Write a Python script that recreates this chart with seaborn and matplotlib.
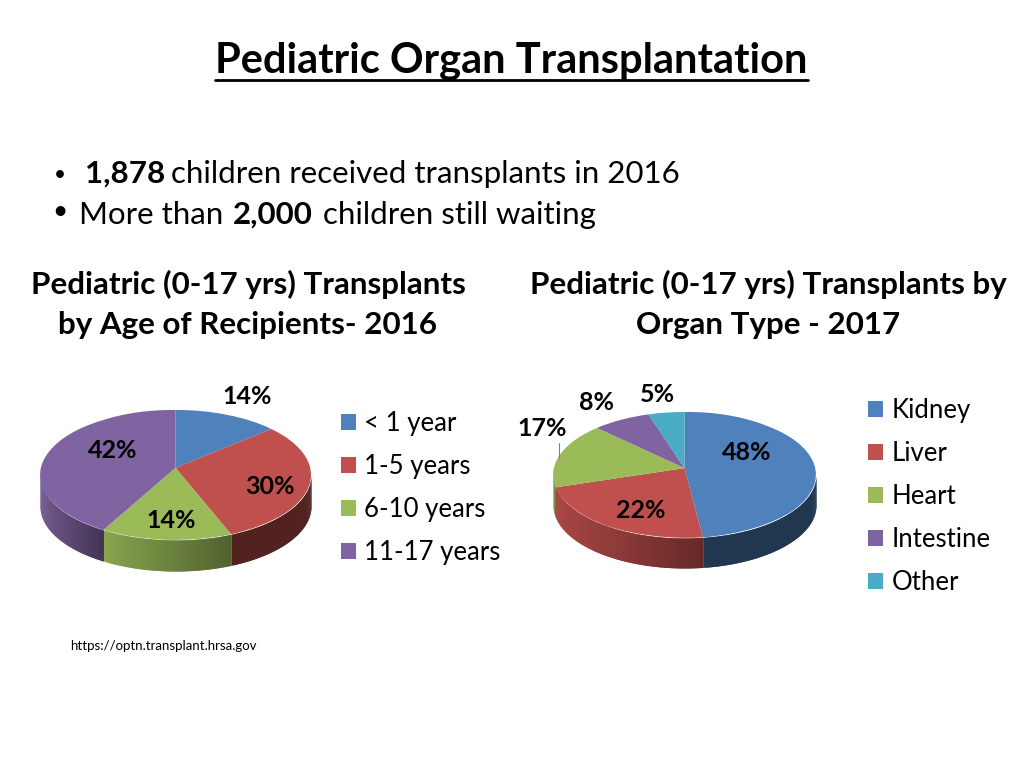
import numpy as np
import seaborn as sns
import matplotlib.pyplot as plt
from matplotlib.lines import Line2D
from matplotlib.path import Path

age_labels = ["< 1 year", "1-5 years", "6-10 years", "11-17 years"]
age_values = [14, 30, 14, 42]
organ_labels = ["Kidney", "Liver", "Heart", "Intestine", "Other"]
organ_values = [48, 22, 17, 8, 5]

title = "Pediatric Organ Transplantation"
left_heading = ["Pediatric (0-17 yrs) Transplants", "by Age of Recipients- 2016"]
right_heading = ["Pediatric (0-17 yrs) Transplants by", "Organ Type - 2017"]
source = "https://optn.transplant.hrsa.gov"

sns.set_theme(style="white")
plt.rcParams["font.family"] = ["Lato", "DejaVu Sans"]
palette = sns.color_palette(["#4F81BD", "#C0504D", "#9BBB59", "#8064A2", "#4BACC6"])

W, H = 1024, 768
fig = plt.figure(figsize=(W / 100, H / 100), dpi=100)


def put(x, y, s, **kw):
    # x, y in reference pixels
    kw.setdefault("va", "center")
    kw.setdefault("color", "black")
    return fig.text(x / W, 1 - y / H, s, **kw)


def warp(phi):
    # back of the tilted disc looks squeezed, phi in degrees
    cw = 90 - phi
    return 90 - (cw - 7 * np.sin(np.radians(cw)))


def pie3d(left, right, top, bottom, depth_px, values, labels, legend_xy, hub=0.11):
    # box covers the top face plus the wall below it
    ry_px = (bottom - top - depth_px) / 2
    depth = depth_px / ry_px
    ax = fig.add_axes([left / W, 1 - bottom / H, (right - left) / W, (bottom - top) / H])
    wedges, _ = ax.pie(values, colors=palette, startangle=90, counterclock=False,
                       radius=1, wedgeprops={"linewidth": 0})
    for w, c in zip(wedges, palette):
        p = w.get_path()
        v = p.vertices.copy()
        r = np.hypot(v[:, 0], v[:, 1])
        phi = warp(np.degrees(np.arctan2(v[:, 1], v[:, 0])))
        v = np.column_stack([r * np.cos(np.radians(phi)), r * np.sin(np.radians(phi))])
        # the hub sits a bit above the middle of the ellipse
        v[r < 1e-9] = (0, hub)
        w._path = Path(v, p.codes)
        w.set_zorder(5)

        # outer wall, only the front half of the rim shows
        a1, a2 = warp(w.theta1), warp(w.theta2)
        a1, a2 = max(min(a1, a2), -180), min(max(a1, a2), 0)
        if a2 <= a1:
            continue
        t = np.radians(np.linspace(a1, a2, 90))
        x, y = np.cos(t), np.sin(t)
        xmid = x.mean()
        for i in range(len(t) - 1):
            if xmid > 0.1:
                shade = 0.42
            else:
                f = (x[i] - x.min()) / (x.max() - x.min())
                shade = 0.88 - 0.36 * f
            col = tuple(np.array(c) * shade)
            # strips overlap the next one so no white seams show
            ax.fill_between(x[i:i + 3], y[i:i + 3], y[i:i + 3] - depth,
                            color=col, linewidth=0, zorder=2)
    ax.set_aspect("auto")
    ax.set_xlim(-1, 1)
    ax.set_ylim(-1 - depth, 1)
    ax.axis("off")
    fig.legend(wedges, labels, loc="upper left",
               bbox_to_anchor=(legend_xy[0] / W, 1 - legend_xy[1] / H),
               frameon=False, fontsize=18.5, labelspacing=0.70, borderpad=0, borderaxespad=0,
               handlelength=0.58, handleheight=0.58, handletextpad=0.33, labelcolor="black")
    return ax


pie3d(40, 311, 410, 571, 31, age_values, age_labels, (341, 411))
pie3d(553, 816, 412, 568, 30, organ_values, organ_labels, (868, 398))

# percent labels
age_pos = [(247, 397), (270, 487), (171, 520), (113, 451)]
organ_pos = [(747, 453), (641, 511), (542, 428), (597, 403), (657, 395)]
for v, (x, y) in zip(age_values, age_pos):
    put(x, y, f"{v}%", ha="center", fontsize=18, fontweight="bold")
for v, (x, y) in zip(organ_values, organ_pos):
    put(x, y, f"{v}%", ha="center", fontsize=18, fontweight="bold")
fig.add_artist(Line2D([559 / W, 559 / W], [1 - 443 / H, 1 - 458 / H], color="#808080", lw=0.8))

# title with underline
t = put(511.5, 61, title, ha="center", fontsize=30, fontweight="bold")
fig.canvas.draw()
bb = t.get_window_extent()
fig.add_artist(Line2D([bb.x0 / W, bb.x1 / W], [1 - 80 / H, 1 - 80 / H], color="black", lw=2))


def runs(x, y, parts, size=22.5, gap=6):
    # mixed bold and regular text on one line
    for s, weight in parts:
        tx = put(x, y, s, ha="left", fontsize=size, fontweight=weight)
        fig.canvas.draw()
        x = tx.get_window_extent().x1 + gap


put(60, 175, "•", ha="center", fontsize=15)
runs(85, 174, [("1,878", "bold"), ("children received transplants in 2016", "normal")])
put(60, 212, "•", ha="center", fontsize=19)
runs(79, 215, [("More than", "normal"), ("2,000", "bold"), ("children still waiting", "normal")], gap=10)

for line, y in zip(left_heading, [284, 325]):
    put(248, y, line, ha="center", fontsize=22.6, fontweight="bold")
for line, y in zip(right_heading, [284, 325]):
    put(768, y, line, ha="center", fontsize=22.6, fontweight="bold")

put(70, 646, source, ha="left", fontsize=9.5)

fig.savefig("out.png", dpi=100)
